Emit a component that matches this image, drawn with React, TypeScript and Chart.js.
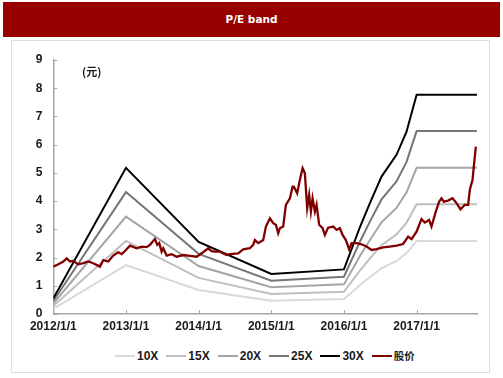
import React, { useEffect, useRef } from "react";
import { Chart, registerables } from "chart.js";

Chart.register(...registerables);

const titleText = "P/E band";
const unitLabel = "(元)";
const yearTicks = [2012, 2013, 2014, 2015, 2016, 2017];
const yMin = 0;
const yMax = 9;
const xMin = 2012;
const xMax = 2017.835;

const seriesNames = ["10X", "15X", "20X", "25X", "30X", "股价"];
const seriesColors = ["#d9d9d9", "#bfbfbf", "#a5a5a5", "#767676", "#000000", "#800000"];

const bandYears = [2012.0, 2013.0, 2014.0, 2015.0, 2016.0, 2016.223, 2016.36, 2016.517, 2016.723, 2016.86, 2017.0, 2017.83];
const pe10 = [0.18, 1.73, 0.85, 0.47, 0.53, 1.03, 1.32, 1.62, 1.88, 2.15, 2.59, 2.59];
const pe15 = [0.28, 2.59, 1.28, 0.71, 0.79, 1.55, 1.98, 2.44, 2.82, 3.23, 3.89, 3.89];
const pe20 = [0.37, 3.45, 1.70, 0.95, 1.05, 2.07, 2.63, 3.25, 3.76, 4.30, 5.18, 5.18];
const pe25 = [0.46, 4.32, 2.13, 1.18, 1.32, 2.58, 3.29, 4.06, 4.70, 5.38, 6.48, 6.48];
const pe30 = [0.55, 5.18, 2.55, 1.42, 1.58, 3.10, 3.95, 4.87, 5.64, 6.45, 7.77, 7.77];

const priceYears = [
  2012.0, 2012.069, 2012.138, 2012.184, 2012.23, 2012.275, 2012.344, 2012.413, 2012.481, 2012.55,
  2012.642, 2012.688, 2012.757, 2012.825, 2012.894, 2012.941, 2012.986, 2013.055, 2013.147, 2013.216,
  2013.285, 2013.33, 2013.375, 2013.399, 2013.431, 2013.458, 2013.491, 2013.513, 2013.56, 2013.629,
  2013.697, 2013.788, 2013.88, 2013.972, 2014.041, 2014.132, 2014.179, 2014.224, 2014.293, 2014.385,
  2014.431, 2014.545, 2014.613, 2014.705, 2014.751, 2014.774, 2014.82, 2014.889, 2014.926, 2014.981,
  2015.026, 2015.063, 2015.095, 2015.118, 2015.164, 2015.201, 2015.256, 2015.293, 2015.311, 2015.356,
  2015.393, 2015.431, 2015.462, 2015.494, 2015.521, 2015.545, 2015.568, 2015.6, 2015.623, 2015.659,
  2015.706, 2015.737, 2015.783, 2015.851, 2015.898, 2015.943, 2015.981, 2016.026, 2016.072, 2016.105,
  2016.173, 2016.242, 2016.311, 2016.38, 2016.448, 2016.539, 2016.631, 2016.724, 2016.814, 2016.883,
  2016.93, 2016.999, 2017.067, 2017.113, 2017.172, 2017.205, 2017.264, 2017.31, 2017.342, 2017.374,
  2017.433, 2017.494, 2017.549, 2017.604, 2017.663, 2017.709, 2017.732, 2017.769, 2017.787, 2017.815,
];
const priceValues = [
  1.68, 1.76, 1.86, 1.97, 1.86, 1.88, 1.76, 1.80, 1.86, 1.80,
  1.68, 1.91, 1.86, 2.07, 2.19, 2.12, 2.23, 2.42, 2.33, 2.39,
  2.37, 2.45, 2.59, 2.66, 2.45, 2.51, 2.21, 2.33, 2.07, 2.12,
  2.03, 2.09, 2.06, 2.03, 2.15, 2.33, 2.23, 2.21, 2.21, 2.09,
  2.12, 2.15, 2.29, 2.33, 2.45, 2.62, 2.51, 2.62, 3.10, 3.39,
  3.22, 3.16, 2.86, 3.04, 3.10, 3.87, 4.10, 4.51, 4.51, 4.28,
  4.75, 5.17, 4.99, 3.75, 4.22, 3.63, 4.10, 3.63, 3.87, 3.16,
  3.04, 2.80, 3.06, 3.10, 2.98, 3.04, 2.80, 2.62, 2.29, 2.51,
  2.51, 2.47, 2.39, 2.27, 2.30, 2.36, 2.39, 2.42, 2.48, 2.74,
  2.65, 2.92, 3.36, 3.24, 3.33, 3.10, 3.63, 3.98, 4.10, 3.98,
  4.02, 4.10, 3.93, 3.71, 3.87, 3.87, 4.40, 4.75, 5.22, 5.93,
];

const AXIS_COLOR = "#a6a6a6";
const TEXT_FONT = "'Liberation Sans Narrow', 'Liberation Sans', Arial, sans-serif";
const TITLE_FONT = "'DejaVu Sans', 'Liberation Sans', sans-serif";

const insideTicks = {
  id: "insideTicks",
  afterDraw(chart: any) {
    const { ctx, chartArea, scales } = chart;
    ctx.save();
    ctx.strokeStyle = AXIS_COLOR;
    ctx.lineWidth = 1;
    scales.x.ticks.forEach((t: any) => {
      const px = Math.round(scales.x.getPixelForValue(t.value)) + 0.5;
      ctx.beginPath();
      ctx.moveTo(px, chartArea.bottom);
      ctx.lineTo(px, chartArea.bottom - 4);
      ctx.stroke();
    });
    scales.y.ticks.forEach((t: any) => {
      const py = Math.round(scales.y.getPixelForValue(t.value)) + 0.5;
      ctx.beginPath();
      ctx.moveTo(chartArea.left, py);
      ctx.lineTo(chartArea.left + 4, py);
      ctx.stroke();
    });
    ctx.restore();
  },
};

function toPoints(xs: number[], ys: number[]) {
  return xs.map((x, i) => ({ x, y: ys[i] }));
}

export default function App() {
  const canvasRef = useRef<HTMLCanvasElement | null>(null);

  useEffect(() => {
    const canvas = canvasRef.current;
    if (!canvas) return;
    const bands = [pe10, pe15, pe20, pe25, pe30];
    const datasets: any[] = bands.map((vals, i) => ({
      label: seriesNames[i],
      data: toPoints(bandYears, vals),
      borderColor: seriesColors[i],
      borderWidth: 2,
      pointRadius: 0,
      tension: 0,
      fill: false,
      order: 5 - i,
    }));
    datasets.push({
      label: seriesNames[5],
      data: toPoints(priceYears, priceValues),
      borderColor: seriesColors[5],
      borderWidth: 2.3,
      pointRadius: 0,
      tension: 0,
      fill: false,
      order: 0,
    });

    const tickFont = { family: TEXT_FONT, size: 12, weight: "bold" };
    const chart = new Chart(canvas, {
      type: "line",
      data: { datasets },
      plugins: [insideTicks],
      options: {
        animation: false,
        responsive: false,
        maintainAspectRatio: false,
        layout: { padding: { left: 0, right: 25.7, top: 20, bottom: 0 } },
        plugins: {
          legend: { display: false },
          tooltip: { enabled: false },
        },
        scales: {
          x: {
            type: "linear",
            min: xMin,
            max: xMax,
            afterBuildTicks: (s: any) => {
              s.ticks = yearTicks.map((v) => ({ value: v }));
            },
            afterFit: (s: any) => {
              s.height = 26;
            },
            ticks: {
              callback: (v: any) => `${v}/1/1`,
              font: tickFont,
              color: "#1a1a1a",
              padding: 5,
              maxRotation: 0,
              autoSkip: false,
            },
            grid: { display: true, drawOnChartArea: false, drawTicks: false },
            border: { display: true, color: AXIS_COLOR, width: 1.5 },
          },
          y: {
            min: yMin,
            max: yMax,
            afterFit: (s: any) => {
              s.width = 53.3;
            },
            ticks: {
              stepSize: 1,
              font: tickFont,
              color: "#1a1a1a",
              padding: 11,
            },
            grid: { display: true, drawOnChartArea: false, drawTicks: false },
            border: { display: true, color: AXIS_COLOR, width: 1.5 },
          },
        },
      } as any,
    });
    return () => chart.destroy();
  }, []);

  return (
    <div style={{ position: "absolute", left: 0, top: 0, width: 503, height: 378, background: "#fff", overflow: "hidden" }}>
      <div
        style={{
          position: "absolute",
          left: 3,
          top: 2,
          width: 497,
          height: 35,
          background: "#990000",
          color: "#fff",
          fontFamily: TITLE_FONT,
          fontWeight: "bold",
          fontSize: 10.5,
          lineHeight: "35px",
          textAlign: "center",
        }}
      >
        {titleText}
      </div>
      <div
        style={{
          position: "absolute",
          left: 11,
          top: 40,
          width: 477,
          height: 331,
          border: "1px solid #dcdcdc",
        }}
      />
      <canvas
        ref={canvasRef}
        width={503}
        height={300}
        style={{ position: "absolute", left: 0, top: 40, width: 503, height: 300 }}
      />
      <div
        style={{
          position: "absolute",
          left: 82,
          top: 63,
          fontFamily: "'Noto Sans CJK SC', sans-serif",
          fontSize: 11,
          fontWeight: "bold",
          color: "#1a1a1a",
          lineHeight: "16px",
        }}
      >
        {unitLabel}
      </div>
      <div
        style={{
          position: "absolute",
          left: 115,
          top: 349,
          height: 14,
          display: "flex",
          alignItems: "center",
          gap: 8,
          fontFamily: TEXT_FONT,
          fontWeight: "bold",
          fontSize: 12,
          color: "#1a1a1a",
        }}
      >
        {seriesNames.map((n, i) => (
          <div key={n} style={{ display: "flex", alignItems: "center" }}>
            <span style={{ display: "inline-block", width: 20, height: 2, background: seriesColors[i], marginRight: 2 }} />
            <span
              style={{
                fontFamily: i === 5 ? "'Noto Sans CJK SC', sans-serif" : TEXT_FONT,
                fontSize: i === 5 ? 10.5 : 12,
                lineHeight: "14px",
              }}
            >
              {n}
            </span>
          </div>
        ))}
      </div>
    </div>
  );
}
